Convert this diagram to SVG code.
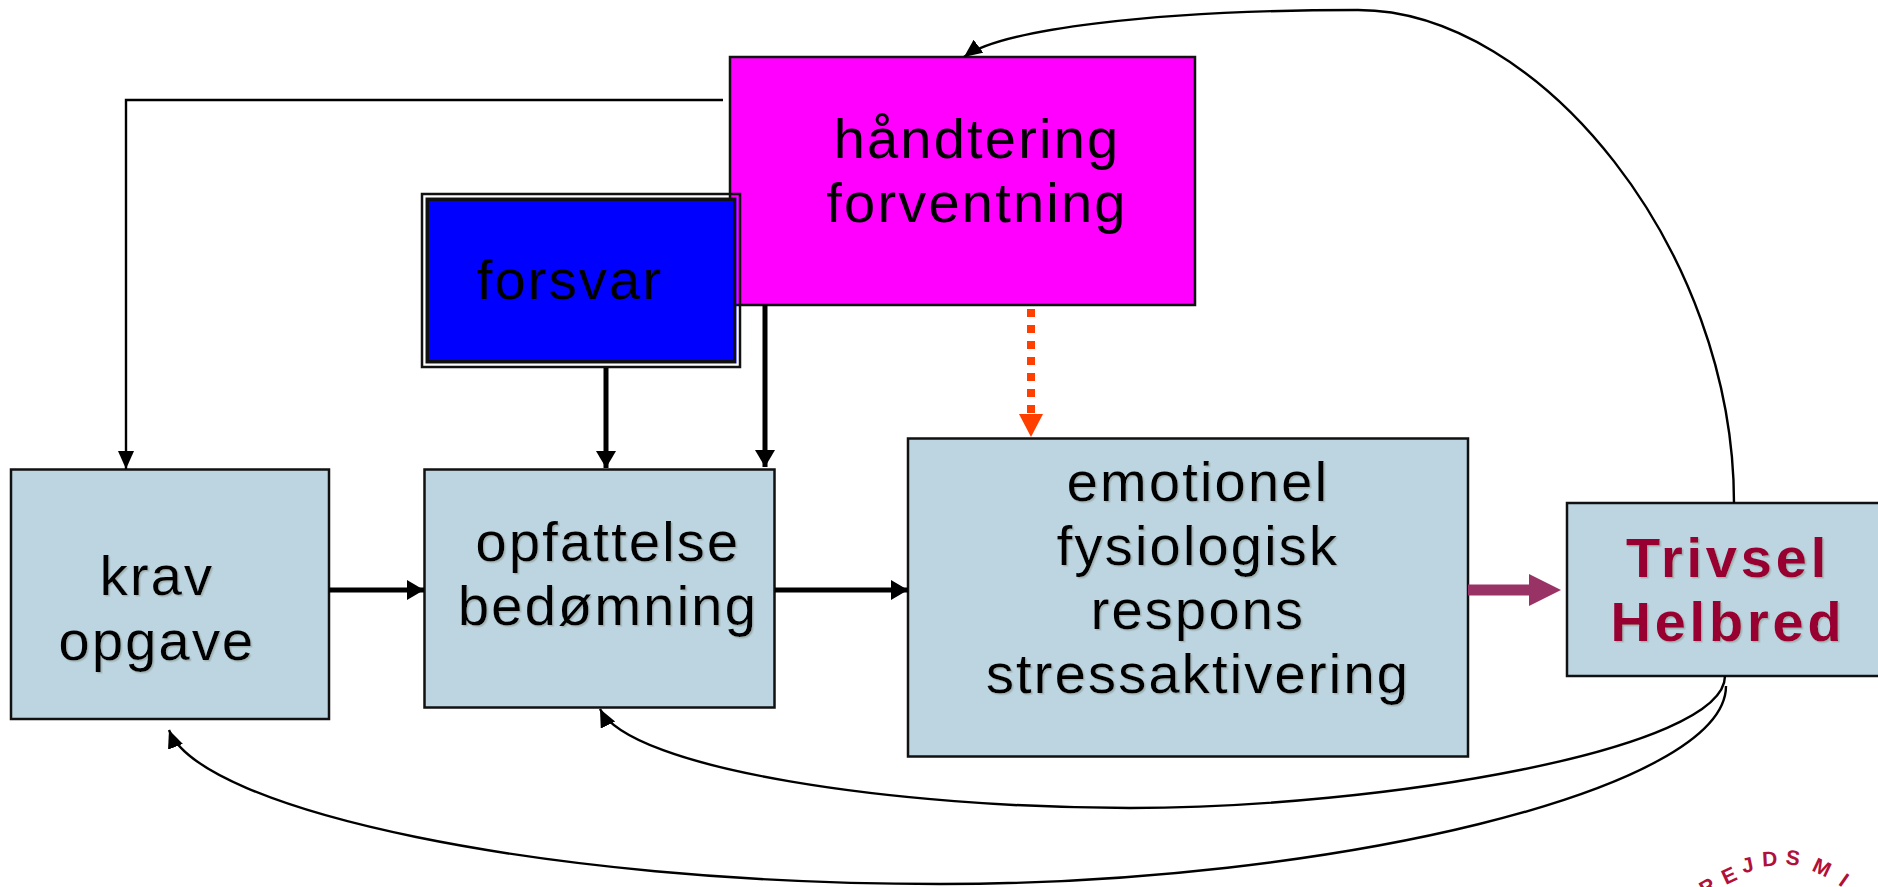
<svg xmlns="http://www.w3.org/2000/svg" width="1878" height="887" viewBox="0 0 1878 887">
<style>
text{font-family:"Liberation Sans",Arial,sans-serif;font-size:56px;letter-spacing:2.2px;text-anchor:middle;fill:#000}
.shadow{filter:url(#ts)}
.box{fill:#bdd5e1;stroke:#111;stroke-width:2.5}
.thick{fill:none;stroke:#000;stroke-width:5}
.thin{fill:none;stroke:#000;stroke-width:2.4}
.brand{font-weight:bold;fill:#990033;letter-spacing:3.8px}
.logo{font-weight:bold;font-size:21px;fill:#b0103a;letter-spacing:0}
</style>
<defs>
<filter id="ts" x="-5%" y="-5%" width="110%" height="115%"><feDropShadow dx="1.5" dy="1.5" stdDeviation="0.4" flood-color="#9aa" flood-opacity="0.8"/></filter>
<marker id="ah" markerUnits="userSpaceOnUse" markerWidth="20" markerHeight="22" refX="17" refY="10" orient="auto"><path d="M0,0L17,10L0,20Z" fill="#000"/></marker>
<marker id="ahs" markerUnits="userSpaceOnUse" markerWidth="20" markerHeight="18" refX="18" refY="8" orient="auto"><path d="M0,0L18,8L0,16Z" fill="#000"/></marker>
</defs>
<rect width="1878" height="887" fill="#fff"/>
<g id="node-haandtering">
<rect x="730" y="57" width="465" height="248" fill="#ff00ff" stroke="#111" stroke-width="2.5"/>
<text x="977" y="158">håndtering</text>
<text x="977" y="222">forventning</text>
</g>
<g id="node-forsvar">
<rect x="422" y="194" width="318" height="173" fill="none" stroke="#111" stroke-width="2.5"/>
<rect x="425.500" y="197.500" width="311" height="166" fill="#0000ff"/>
<rect x="427.500" y="199.500" width="307" height="162" fill="#0000ff" stroke="#111" stroke-width="3"/>
<text x="570" y="299">forsvar</text>
</g>
<g id="node-krav">
<rect class="box" x="11" y="469.500" width="318" height="249.500"/>
<text class="shadow" x="157" y="595">krav</text>
<text class="shadow" x="157" y="660">opgave</text>
</g>
<g id="node-opfattelse">
<rect class="box" x="424.500" y="469.500" width="350" height="238"/>
<text class="shadow" x="608" y="561">opfattelse</text>
<text class="shadow" x="608" y="625">bedømning</text>
</g>
<g id="node-respons">
<rect class="box" x="908" y="438.500" width="560" height="318"/>
<text class="shadow" x="1198" y="501">emotionel</text>
<text class="shadow" x="1198" y="565">fysiologisk</text>
<text class="shadow" x="1198" y="629">respons</text>
<text class="shadow" x="1198" y="693">stressaktivering</text>
</g>
<g id="node-trivsel">
<rect class="box" x="1567" y="503" width="320" height="173"/>
<text class="shadow brand" x="1728" y="577">Trivsel</text>
<text class="shadow brand" x="1728" y="641">Helbred</text>
</g>
<g id="connectors">
<path class="thick" d="M329,590H424" marker-end="url(#ah)"/>
<path class="thick" d="M775,590H908" marker-end="url(#ah)"/>
<path class="thick" d="M606,368V468" marker-end="url(#ah)"/>
<path class="thick" d="M765,305V467" marker-end="url(#ah)"/>
<path d="M1031,309V416" fill="none" stroke="#ff3f00" stroke-width="8" stroke-dasharray="8 8"/>
<path d="M1019,414H1043L1031,437Z" fill="#ff3f00"/>
<path d="M1468,590H1530" fill="none" stroke="#993366" stroke-width="11"/>
<path d="M1529,574L1561,590L1529,606Z" fill="#993366"/>
<path class="thin" d="M723,100H126V469" marker-end="url(#ahs)"/>
<path class="thin" d="M1734,503C1734,250 1540,10 1358,10C1150,10 1000,30 964,57" marker-end="url(#ahs)"/>
<path class="thin" d="M1725,676C1725,750 1380,808 1130,808C900,808 630,770 600,709" marker-end="url(#ahs)"/>
<path class="thin" d="M1726,686C1726,790 1330,884 940,884C540,884 200,810 169,730" marker-end="url(#ahs)"/>
</g>
<g id="logo">
<text class="logo" transform="translate(1711,893) rotate(-30)">R</text>
<text class="logo" transform="translate(1732,882) rotate(-25)">E</text>
<text class="logo" transform="translate(1749,872) rotate(-12)">J</text>
<text class="logo" transform="translate(1770,866) rotate(-3)">D</text>
<text class="logo" transform="translate(1792,865) rotate(8)">S</text>
<text class="logo" transform="translate(1819,874) rotate(25)">M</text>
<text class="logo" transform="translate(1840,886) rotate(35)">I</text>
</g>
</svg>
